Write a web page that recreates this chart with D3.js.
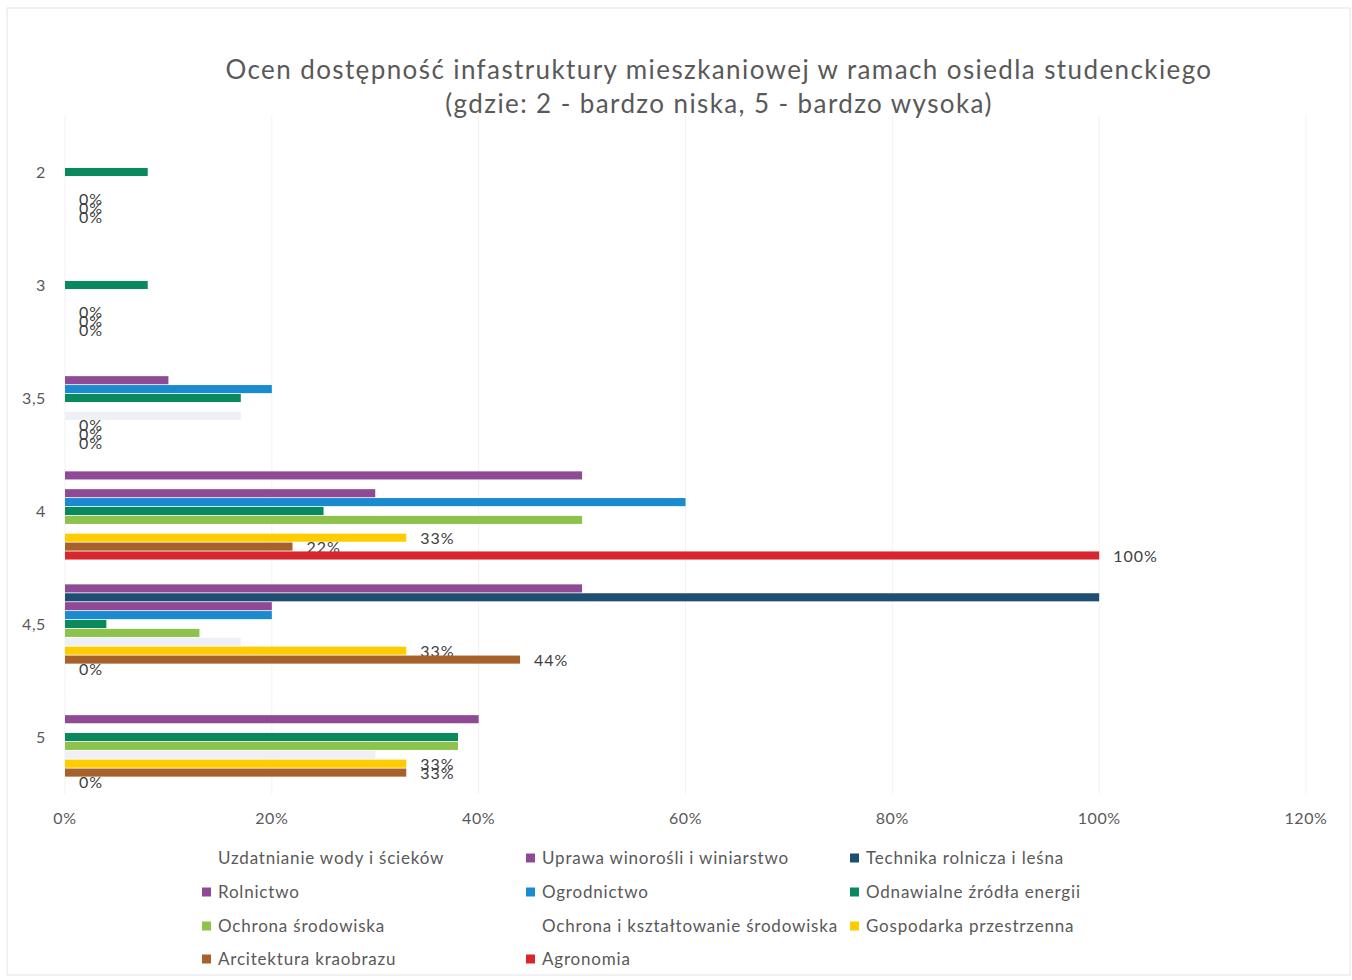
<!DOCTYPE html>
<html>
<head>
<meta charset="utf-8">
<script src="https://cdn.jsdelivr.net/npm/d3@7"></script>
<style>
  body { margin: 0; background: #fff; }
  text { font-family: Lato, "Open Sans", sans-serif; fill: #595959; }
</style>
</head>
<body>
<div id="chart"></div>
<script>
// categories (ocena) top to bottom
var categories = ["2", "3", "3,5", "4", "4,5", "5"];

var seriesNames = [
  "Uzdatnianie wody i ścieków",
  "Uprawa winorośli i winiarstwo",
  "Technika rolnicza i leśna",
  "Rolnictwo",
  "Ogrodnictwo",
  "Odnawialne źródła energii",
  "Ochrona środowiska",
  "Ochrona i kształtowanie środowiska",
  "Gospodarka przestrzenna",
  "Arcitektura kraobrazu",
  "Agronomia"
];
var seriesColors = ["#ffffff", "#8e4a95", "#1e4f73", "#8e4a95", "#1a8bd0", "#0a8a5c",
                    "#8dc34d", "#eef0f5", "#ffcc00", "#a7622b", "#d8262f"];

var uzdatnianie    = [0, 0, 0, 0, 0, 0];
var uprawa         = [0, 0, 0, 0.50, 0.50, 0];
var technika       = [0, 0, 0, 0, 1.00, 0];
var rolnictwo      = [0, 0, 0.10, 0.30, 0.20, 0.40];
var ogrodnictwo    = [0, 0, 0.20, 0.60, 0.20, 0];
var odnawialne     = [0.08, 0.08, 0.17, 0.25, 0.04, 0.38];
var ochrona        = [0, 0, 0, 0.50, 0.13, 0.38];
var ochronaKsztalt = [0, 0, 0.17, 0, 0.17, 0.30];
var gospodarka     = [0, 0, 0, 0.33, 0.33, 0.33];
var architektura   = [0, 0, 0, 0.22, 0.44, 0.33];
var agronomia      = [0, 0, 0, 1.00, 0, 0];

var allValues = [uzdatnianie, uprawa, technika, rolnictwo, ogrodnictwo, odnawialne,
                 ochrona, ochronaKsztalt, gospodarka, architektura, agronomia];
// series that carry data labels
var labelled = [8, 9, 10];

var xTicks = [0, 0.2, 0.4, 0.6, 0.8, 1.0, 1.2];

var width = 1352, height = 980;
var svg = d3.select("#chart").append("svg")
    .attr("width", width)
    .attr("height", height);

svg.append("rect")
    .attr("x", 7).attr("y", 8)
    .attr("width", 1343).attr("height", 967)
    .attr("fill", "none")
    .attr("stroke", "#e4e4e4");

var x = d3.scaleLinear().domain([0, 1.2]).range([65, 1306]);
var y0 = d3.scaleBand().domain(categories).range([115.5, 793.5]);
var y1 = d3.scaleBand().domain(d3.range(seriesNames.length))
    .range([0, y0.bandwidth()])
    .paddingOuter(0.85);

// title
var title = svg.append("text")
    .attr("text-anchor", "middle")
    .style("font-size", "26px")
    .style("letter-spacing", "1.4px");
title.append("tspan").attr("x", 719).attr("y", 79)
    .text("Ocen dostępność infastruktury mieszkaniowej w ramach osiedla studenckiego");
title.append("tspan").attr("x", 719).attr("y", 113)
    .text("(gdzie: 2 - bardzo niska, 5 - bardzo wysoka)");

// faint gridlines
svg.append("g").selectAll("line")
    .data(xTicks)
    .enter().append("line")
    .attr("x1", function(d) { return x(d); })
    .attr("x2", function(d) { return x(d); })
    .attr("y1", 115).attr("y2", 794)
    .attr("stroke", "#f2f2f2");

// x axis labels
svg.append("g").selectAll("text")
    .data(xTicks)
    .enter().append("text")
    .attr("x", function(d) { return x(d); })
    .attr("y", 824)
    .attr("text-anchor", "middle")
    .style("font-size", "16px")
    .style("letter-spacing", "0.6px")
    .text(d3.format(".0%"));

// category labels
svg.append("g").selectAll("text")
    .data(categories)
    .enter().append("text")
    .attr("x", 46)
    .attr("y", function(d) { return y0(d) + y0.bandwidth() / 2; })
    .attr("dy", "0.35em")
    .attr("text-anchor", "end")
    .style("font-size", "16px")
    .style("letter-spacing", "0.6px")
    .text(function(d) { return d; });

// bars, series by series (labels of earlier series get covered by later bars)
var bh = y1.bandwidth();
allValues.forEach(function(vals, si) {
    var g = svg.append("g");
    g.selectAll("rect")
        .data(vals)
        .enter().append("rect")
        .attr("x", x(0))
        .attr("y", function(d, i) { return y0(categories[i]) + y1(si) + 0.4; })
        .attr("width", function(d) { return x(d) - x(0); })
        .attr("height", bh - 0.8)
        .attr("fill", seriesColors[si]);
    if (labelled.indexOf(si) >= 0) {
        g.selectAll("text")
            .data(vals)
            .enter().append("text")
            .attr("x", function(d) { return x(d) + 14; })
            .attr("y", function(d, i) { return y0(categories[i]) + y1(si) + bh / 2; })
            .attr("dy", "0.38em")
            .style("font-size", "16px")
            .style("letter-spacing", "1px")
            .style("fill", "#404040")
            .text(d3.format(".0%"));
    }
});

// legend
var legCols = [202, 526, 850], legRows = [858, 892, 926, 959];
var leg = svg.append("g").selectAll("g")
    .data(seriesNames)
    .enter().append("g")
    .attr("transform", function(d, i) {
        return "translate(" + legCols[i % 3] + "," + legRows[Math.floor(i / 3)] + ")";
    });
leg.append("rect")
    .attr("x", 0).attr("y", -4.5)
    .attr("width", 9).attr("height", 9)
    .attr("fill", function(d, i) { return seriesColors[i] === "#eef0f5" ? "#ffffff" : seriesColors[i]; });
leg.append("text")
    .attr("x", 16)
    .attr("dy", "0.35em")
    .style("font-size", "17px")
    .style("letter-spacing", "0.8px")
    .text(function(d) { return d; });
</script>
</body>
</html>
